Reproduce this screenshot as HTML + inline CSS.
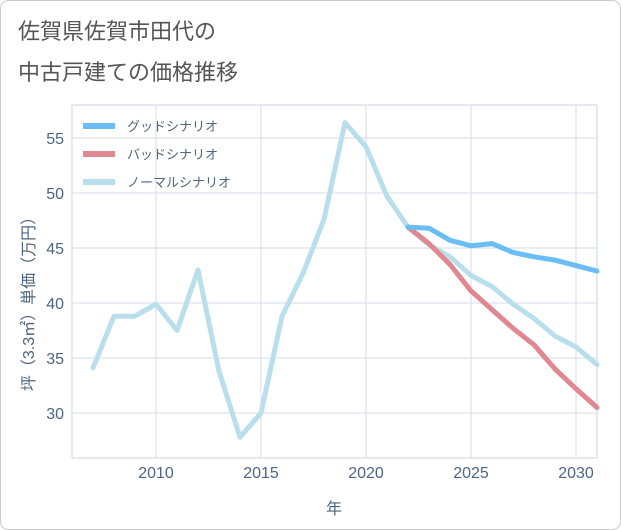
<!DOCTYPE html>
<html><head><meta charset="utf-8"><style>
body{margin:0;background:#fff;}
svg{display:block;font-family:"Liberation Sans","Noto Sans CJK JP",sans-serif;}
</style></head><body>
<svg width="621" height="530" xmlns="http://www.w3.org/2000/svg">
<rect x="0.5" y="0.5" width="620" height="529" rx="8" fill="#fff" stroke="#ccc"/>
<text x="18" y="39" font-size="22" fill="#555">佐賀県佐賀市田代の</text>
<text x="18" y="80" font-size="22" fill="#555">中古戸建ての価格推移</text>
<g id="plot"></g>
</svg>
<script>
const years=[2007,2008,2009,2010,2011,2012,2013,2014,2015,2016,2017,2018,2019,2020,2021,2022,2023,2024,2025,2026,2027,2028,2029,2030,2031];
const normal=[34.1,38.8,38.8,39.9,37.5,43.0,33.8,27.8,30.0,38.8,42.7,47.6,56.4,54.2,49.7,46.9,45.3,44.2,42.5,41.5,39.9,38.6,37.0,36.0,34.4];
const fYears=[2022,2023,2024,2025,2026,2027,2028,2029,2030,2031];
const good=[46.9,46.8,45.7,45.2,45.4,44.6,44.2,43.9,43.4,42.9];
const bad=[46.9,45.4,43.5,41.1,39.4,37.7,36.2,34.0,32.2,30.5];
const xTicks=[2010,2015,2020,2025,2030];
const yTicks=[30,35,40,45,50,55];
const X0=72,X1=597,Y0=105,Y1=458;
const xs=v=>156+(v-2010)*21;
const ys=v=>413-(v-30)*11;
const g=document.getElementById('plot');
const NS='http://www.w3.org/2000/svg';
function mk(t,a,parent){const e=document.createElementNS(NS,t);for(const k in a)e.setAttribute(k,a[k]);(parent||g).appendChild(e);return e;}
let r=mk('rect',{x:X0,y:Y0,width:X1-X0,height:Y1-Y0,fill:'none',stroke:'#ccd6e0'});


xTicks.forEach(v=>{let l=mk('line',{x1:xs(v),x2:xs(v),y1:Y0,y2:Y1,stroke:'#d5dee8'});


let t=mk('text',{x:xs(v),y:478,'font-size':16,fill:'#4d6580','text-anchor':'middle'});t.textContent=v;

});
yTicks.forEach(v=>{let l=mk('line',{x1:X0,x2:X1,y1:ys(v),y2:ys(v),stroke:'#d5dee8'});


let t=mk('text',{x:64,y:ys(v)+6,'font-size':16,fill:'#4d6580','text-anchor':'end'});t.textContent=v;

});
let xt=mk('text',{x:334,y:514,'font-size':16,fill:'#4d6580','text-anchor':'middle'});xt.textContent='年';


let yt=mk('text',{x:0,y:0,'font-size':16,fill:'#4d6580','text-anchor':'middle',transform:'translate(34,300) rotate(-90)'});yt.textContent='坪（3.3㎡）単価（万円）';


function line(xv,yv,color,name){const d=xv.map((x,i)=>(i?'L':'M')+xs(x)+','+ys(yv[i])).join(' ');
let p=mk('path',{d:d,fill:'none',stroke:color,'stroke-width':5,'stroke-linejoin':'round','stroke-linecap':'round'});

}
line(years,normal,'#badfec','normal-scenario-line');
line(fYears,bad,'#e08890','bad-scenario-line');
line(fYears,good,'#6bbdf5','good-scenario-line');
[['グッドシナリオ','#6bbdf5',126],['バッドシナリオ','#e08890',154],['ノーマルシナリオ','#badfec',182]].forEach(([lab,c,y])=>{
let l=mk('line',{x1:83,x2:115,y1:y,y2:y,stroke:c,'stroke-width':6});


let t=mk('text',{x:127,y:y+5,'font-size':13,fill:'#4d6580'});t.textContent=lab;

});
</script>
</body></html>
